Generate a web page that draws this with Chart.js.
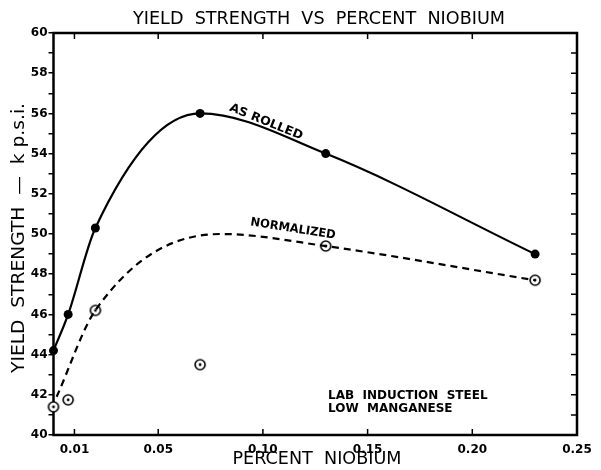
<!DOCTYPE html>
<html>
<head>
<meta charset="utf-8">
<script src="https://cdn.jsdelivr.net/npm/chart.js@4"></script>
<style>
  html, body { margin: 0; padding: 0; background: #fff; }
  #wrap { width: 601px; height: 470px; }
</style>
</head>
<body>
<div id="wrap"><canvas id="chartNiobium" width="601" height="470"></canvas></div>
<script>
// values
const niobiumRolled = [0, 0.007, 0.02, 0.07, 0.13, 0.23];
const strengthRolled = [44.2, 46.0, 50.3, 56.0, 54.0, 49.0];

const niobiumNorm = [0, 0.007, 0.02, 0.07, 0.13, 0.23];
const strengthNorm = [41.4, 41.75, 46.2, 43.5, 49.4, 47.7];

// dashed curve drawn by hand through the normalized data
const niobiumNormCurve = [0.0015, 0.02, 0.08, 0.13, 0.23];
const strengthNormCurve = [41.9, 46.2, 50.0, 49.4, 47.7];

const xTickValues = [0.01, 0.05, 0.10, 0.15, 0.20, 0.25];
const xTickLabels = ['0.01', '0.05', '0.10', '0.15', '0.20', '0.25'];

const tickFont = { family: 'DejaVu Sans', size: 12, weight: 'bold' };

function toPoints(xs, ys) {
  return xs.map((x, i) => ({ x: x, y: ys[i] }));
}

// open circle with a dot in the middle
const ringDot = document.createElement('canvas');
ringDot.width = 14; ringDot.height = 14;
(function () {
  const c = ringDot.getContext('2d');
  c.fillStyle = '#fff';
  c.beginPath(); c.arc(7, 7, 5, 0, Math.PI * 2); c.fill();
  c.strokeStyle = '#000'; c.lineWidth = 1.6;
  c.beginPath(); c.arc(7, 7, 5, 0, Math.PI * 2); c.stroke();
  c.fillStyle = '#000';
  c.beginPath(); c.arc(7, 7, 1.4, 0, Math.PI * 2); c.fill();
})();

function fitText(ctx, text, x, y, width, font, angle) {
  ctx.save();
  ctx.font = font;
  ctx.translate(x, y);
  ctx.rotate(angle || 0);
  const w = ctx.measureText(text).width;
  ctx.scale(width / w, 1);
  ctx.textAlign = 'center';
  ctx.textBaseline = 'middle';
  ctx.fillStyle = '#000';
  ctx.fillText(text, 0, 0);
  ctx.restore();
}

const framePlugin = {
  id: 'frame',
  beforeDatasetsDraw(chart) {
    const ctx = chart.ctx;
    const a = chart.chartArea;
    const xs = chart.scales.x, ys = chart.scales.y;
    ctx.save();
    ctx.strokeStyle = '#000';
    ctx.lineWidth = 2.5;
    ctx.strokeRect(a.left, a.top, a.right - a.left, a.bottom - a.top);
    ctx.lineWidth = 1.5;
    ctx.beginPath();
    xTickValues.slice(0, 5).forEach(v => {
      const px = xs.getPixelForValue(v);
      ctx.moveTo(px, a.top); ctx.lineTo(px, a.top + 6);
      ctx.moveTo(px, a.bottom); ctx.lineTo(px, a.bottom - 6);
    });
    for (let v = 41; v < 60; v++) {
      const py = ys.getPixelForValue(v);
      ctx.moveTo(a.right, py); ctx.lineTo(a.right - 6, py);
    }
    ctx.stroke();
    ctx.restore();
  },
  afterDraw(chart) {
    const ctx = chart.ctx;
    fitText(ctx, 'YIELD  STRENGTH  VS  PERCENT  NIOBIUM', 319, 20, 372, '17px DejaVu Sans');
    fitText(ctx, 'PERCENT  NIOBIUM', 317, 460, 169, '17px DejaVu Sans');
    fitText(ctx, 'YIELD  STRENGTH  \u2014  k p.s.i.', 20, 238, 270, '17px DejaVu Sans', -Math.PI / 2);
    fitText(ctx, 'AS ROLLED', 266, 122, 78, 'bold 12px DejaVu Sans', 22 * Math.PI / 180);
    fitText(ctx, 'NORMALIZED', 293, 229, 86, 'bold 12px DejaVu Sans', 9 * Math.PI / 180);
    ctx.save();
    ctx.font = 'bold 12px DejaVu Sans';
    ctx.fillStyle = '#000';
    ctx.textBaseline = 'middle';
    ctx.textAlign = 'left';
    ctx.fillText('LAB  INDUCTION  STEEL', 328, 396);
    ctx.fillText('LOW  MANGANESE', 328, 409);
    ctx.restore();
  }
};

const ctx1 = document.getElementById('chartNiobium').getContext('2d');

new Chart(ctx1, {
  type: 'line',
  data: {
    datasets: [
      {
        label: 'As rolled',
        data: toPoints(niobiumRolled, strengthRolled),
        borderColor: '#000',
        backgroundColor: '#000',
        borderWidth: 2.2,
        cubicInterpolationMode: 'monotone',
        pointRadius: 4.5,
        pointBackgroundColor: '#000',
        pointBorderWidth: 0,
        clip: false
      },
      {
        label: 'Normalized curve',
        data: toPoints(niobiumNormCurve, strengthNormCurve),
        borderColor: '#000',
        borderWidth: 2.2,
        borderDash: [7, 5],
        cubicInterpolationMode: 'monotone',
        pointRadius: 0,
        clip: false
      },
      {
        label: 'Normalized',
        data: toPoints(niobiumNorm, strengthNorm),
        showLine: false,
        pointStyle: ringDot,
        clip: false
      }
    ]
  },
  options: {
    responsive: false,
    animation: false,
    layout: { padding: { top: 33, right: 24, left: 0, bottom: 0 } },
    plugins: {
      legend: { display: false },
      tooltip: { enabled: false }
    },
    scales: {
      x: {
        type: 'linear',
        min: 0,
        max: 0.25,
        afterFit: s => { s.height = 35; },
        afterBuildTicks: s => { s.ticks = xTickValues.map(v => ({ value: v })); },
        grid: { display: false, drawTicks: false },
        border: { display: false },
        ticks: {
          padding: 8,
          color: '#000',
          font: tickFont,
          autoSkip: false,
          maxRotation: 0,
          callback: function (val) {
            const i = xTickValues.findIndex(v => Math.abs(v - val) < 1e-9);
            return i >= 0 ? xTickLabels[i] : '';
          }
        }
      },
      y: {
        min: 40,
        max: 60,
        afterFit: s => { s.width = 53.5; },
        grid: {
          drawOnChartArea: false,
          drawTicks: true,
          tickLength: 5,
          color: '#000',
          lineWidth: 1.5
        },
        border: { display: false },
        ticks: {
          stepSize: 1,
          autoSkip: false,
          padding: 1,
          color: '#000',
          font: tickFont,
          callback: function (val) {
            return val % 2 === 0 ? String(val) : '';
          }
        }
      }
    }
  },
  plugins: [framePlugin]
});
</script>
</body>
</html>
